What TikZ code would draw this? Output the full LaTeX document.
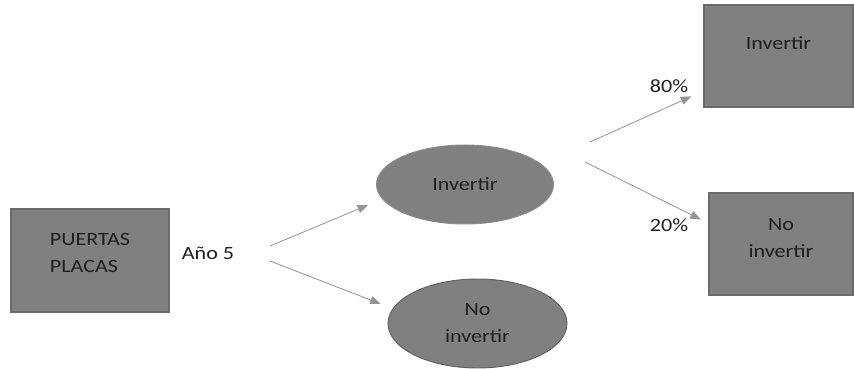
\documentclass[tikz,border=0pt]{standalone}
\usepackage{fontspec}
\setmainfont[FakeStretch=1.18]{Carlito}
\usetikzlibrary{shapes}
\usetikzlibrary{arrows.meta}

\begin{document}
\begin{tikzpicture}[x=0.03cm,y=-0.03cm]
	 \tikzstyle{caja}=[rectangle,draw=black!58,line width=1.4pt,fill=black!50,text=black!88,font=\fontsize{16}{23}\selectfont]
	 \tikzstyle{nodo}=[ellipse,draw=black!45,line width=0.8pt,fill=black!50,text=black!88,font=\fontsize{16}{23}\selectfont,align=center]
	 \tikzstyle{etiqueta}=[text=black!88,font=\fontsize{16}{23}\selectfont]
	 \tikzstyle{rama}=[-{Triangle[length=9pt,width=7pt]},black!42,line width=0.7pt]

	 \useasboundingbox (0,0) rectangle (854,369);

	 \node[caja,minimum width=4.74cm,minimum height=3.09cm,align=left,text depth=0.45cm] (puertas) at (90,260.5) {PUERTAS\\PLACAS};
	 \node[etiqueta] (anio) at (208,253) {Año 5};

	\node[nodo,minimum width=5.31cm,minimum height=2.37cm] (inv) at (465,184.5) {Invertir};
	\node[nodo,minimum width=5.37cm,minimum height=2.67cm,draw=black!62] (noinv) at (477.5,323.5) {No\\invertir};

	\node[caja,minimum width=4.47cm,minimum height=3.06cm,text depth=0.75cm] (invfin) at (778.5,56) {Invertir};
	\node[caja,minimum width=4.32cm,minimum height=3.06cm,align=center,text depth=0.35cm] (noinvfin) at (781,244) {No\\invertir};

	\node[etiqueta] (p80) at (669,86) {80\%};
	\node[etiqueta] (p20) at (669,225) {20\%};

	\coordinate (a1) at (270,246);
	\coordinate (a2) at (270,261);
	\coordinate (b1) at (590,142);
	\coordinate (b2) at (585,162);

	\draw[rama,shorten >=13] (a1) -- (inv.190);
	\draw[rama,shorten >=11] (a2) -- (noinv.170);
	\draw[rama,shorten >=11] (b1) -- (invfin.205);
	\draw[rama,shorten >=7] (b2) -- (noinvfin.164);
\end{tikzpicture}
\end{document}
